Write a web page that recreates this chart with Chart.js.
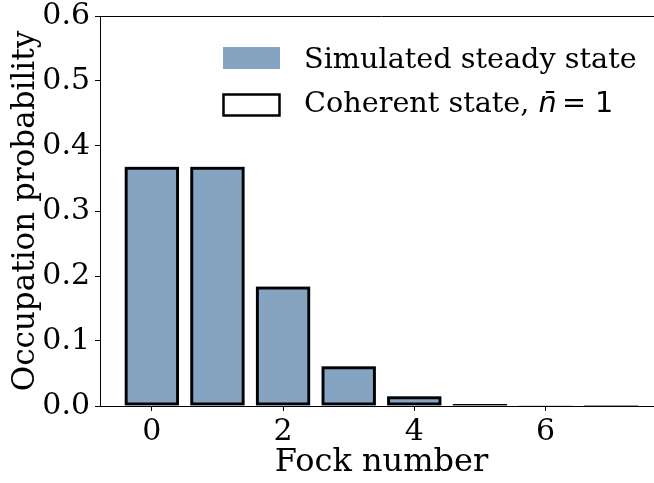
<!DOCTYPE html>
<html>
<head>
<meta charset="utf-8">
<script src="https://cdn.jsdelivr.net/npm/chart.js@4.4.1/dist/chart.umd.min.js"></script>
<style>
  html, body { margin: 0; padding: 0; background: #fff; overflow: hidden; }
  /* the figure is a bit wider than the window; its right edge is cut off */
  #wrap { width: 654px; height: 483px; overflow: hidden; }
</style>
</head>
<body>
<div id="wrap"><canvas id="fockChart" width="664" height="483"></canvas></div>
<script>
// Photon-number distribution: simulated steady state vs coherent state with mean 1
const fockNumbers = [0, 1, 2, 3, 4, 5, 6, 7];
const simulatedProb = [0.368, 0.368, 0.184, 0.061, 0.015, 0.003, 0.0005, 0.0001];
const coherentProb = [0.368, 0.368, 0.184, 0.061, 0.015, 0.003, 0.0005, 0.0001];
const yTicks = [0.0, 0.1, 0.2, 0.3, 0.4, 0.5, 0.6];
const xTicks = [0, 2, 4, 6];

const serif = '"DejaVu Serif", serif';
const sans = '"DejaVu Sans", sans-serif';

const toPoints = vals => fockNumbers.map((n, i) => ({ x: n, y: vals[i] }));

// top spine + legend drawn by hand
const extras = {
    id: 'extras',
    afterDraw(chart) {
        const ctx = chart.ctx;
        const area = chart.chartArea;
        ctx.save();
        ctx.strokeStyle = '#000';
        ctx.lineWidth = 1;
        ctx.beginPath();
        ctx.moveTo(area.left, area.top + 0.5);
        ctx.lineTo(area.right, area.top + 0.5);
        ctx.stroke();

        const sim = chart.data.datasets[1];
        const coh = chart.data.datasets[0];

        // legend patches
        ctx.fillStyle = sim.backgroundColor;
        ctx.fillRect(223, 47, 57, 22);
        ctx.lineWidth = 2.5;
        ctx.strokeStyle = '#000';
        ctx.strokeRect(223.5, 94.5, 56, 21);

        // legend texts
        ctx.fillStyle = '#000';
        ctx.textBaseline = 'alphabetic';
        ctx.textAlign = 'left';
        ctx.font = '28.7px ' + serif;
        ctx.fillText(sim.label, 304, 68);

        const parts = coh.label.split(', ');
        const first = parts[0] + ', ';
        ctx.fillText(first, 304, 112);
        let x = 304 + ctx.measureText(first).width;
        ctx.font = 'italic 28.7px ' + sans;
        ctx.fillText('n\u0304', x, 112);
        x += ctx.measureText('n\u0304').width;
        ctx.font = '28.7px ' + sans;
        ctx.fillText(' = 1', x - 4, 112);
        ctx.restore();
    }
};

new Chart(document.getElementById('fockChart'), {
    type: 'bar',
    data: {
        datasets: [{
            label: 'Coherent state, n\u0304 = 1',
            data: toPoints(coherentProb),
            backgroundColor: 'rgba(0,0,0,0)',
            borderColor: '#000',
            borderWidth: 3,
            borderSkipped: false,
            order: 0
        }, {
            label: 'Simulated steady state',
            data: toPoints(simulatedProb),
            backgroundColor: '#84a4c2',
            borderWidth: 0,
            order: 1
        }]
    },
    options: {
        responsive: false,
        animation: false,
        grouped: false,
        categoryPercentage: 1.0,
        barPercentage: 0.83,
        layout: { padding: { top: 16, right: 1, left: 0, bottom: 0 } },
        plugins: {
            legend: { display: false },
            tooltip: { enabled: false }
        },
        scales: {
            x: {
                type: 'linear',
                min: -0.79,
                max: 7.79,
                offset: false,
                afterBuildTicks: scale => { scale.ticks = xTicks.map(v => ({ value: v })); },
                afterFit: scale => { scale.height = 77; scale.paddingLeft = 0; scale.paddingRight = 0; },
                grid: { offset: false, drawOnChartArea: false, drawTicks: true, tickLength: 5, tickColor: '#000' },
                border: { display: true, color: '#000', width: 1 },
                ticks: {
                    color: '#000',
                    font: { family: serif, size: 30 },
                    padding: 3,
                    maxRotation: 0,
                    callback: v => String(v)
                },
                title: {
                    display: true,
                    text: 'Fock number',
                    color: '#000',
                    font: { family: serif, size: 32 },
                    padding: { top: 0, bottom: 1 }
                }
            },
            y: {
                min: 0,
                max: 0.6,
                afterBuildTicks: scale => { scale.ticks = yTicks.map(v => ({ value: v })); },
                afterFit: scale => { scale.width = 100; scale.paddingTop = 0; scale.paddingBottom = 0; },
                grid: { drawOnChartArea: false, drawTicks: true, tickLength: 5, tickColor: '#000' },
                border: { display: true, color: '#000', width: 1 },
                ticks: {
                    color: '#000',
                    font: { family: serif, size: 30 },
                    padding: 5,
                    callback: v => v.toFixed(1)
                },
                title: {
                    display: true,
                    text: 'Occupation probability',
                    color: '#000',
                    font: { family: serif, size: 31 },
                    padding: { top: 7, bottom: 0 }
                }
            }
        }
    },
    plugins: [extras]
});
</script>
</body>
</html>
